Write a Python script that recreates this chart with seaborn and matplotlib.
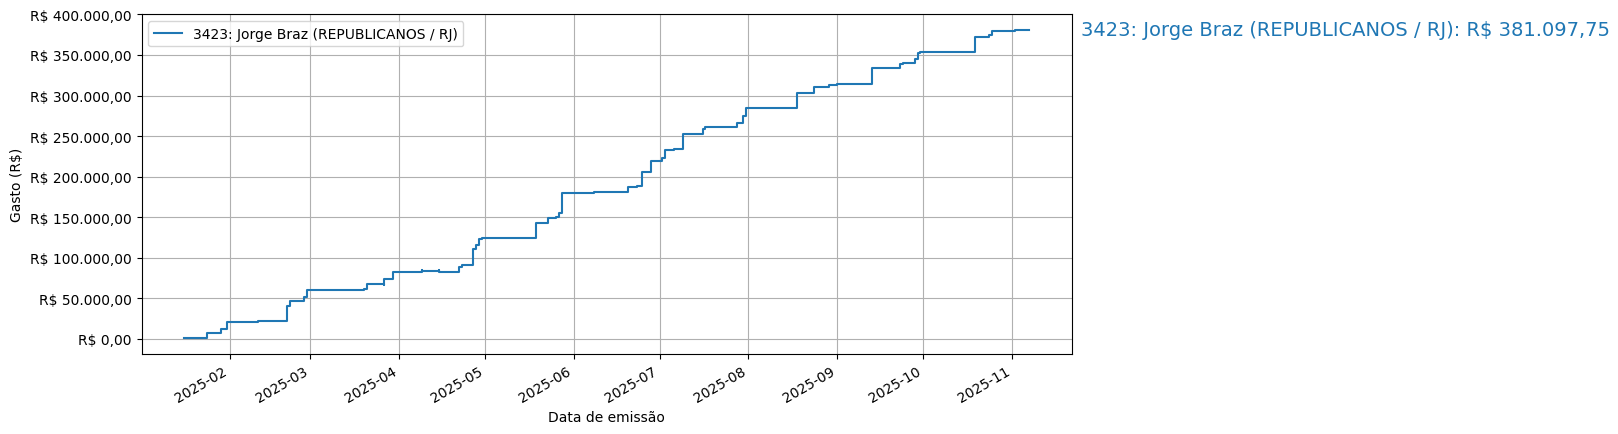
import matplotlib
matplotlib.use("Agg")
import matplotlib.pyplot as plt
import matplotlib.transforms as mtransforms
from matplotlib.ticker import FuncFormatter
import seaborn as sns
import pandas as pd

# ---- data ----
dates = [
    "2025-01-16", "2025-01-24", "2025-01-29", "2025-01-31", "2025-02-11",
    "2025-02-21", "2025-02-22", "2025-02-27", "2025-02-28", "2025-03-20",
    "2025-03-21", "2025-03-24", "2025-03-27", "2025-03-27", "2025-03-30",
    "2025-03-31", "2025-04-09", "2025-04-09", "2025-04-15", "2025-04-15",
    "2025-04-22", "2025-04-23", "2025-04-27", "2025-04-28", "2025-04-29",
    "2025-04-30", "2025-05-19", "2025-05-23", "2025-05-26", "2025-05-27",
    "2025-05-28", "2025-06-08", "2025-06-20", "2025-06-23", "2025-06-25",
    "2025-06-28", "2025-07-02", "2025-07-03", "2025-07-06", "2025-07-09",
    "2025-07-16", "2025-07-17", "2025-07-28", "2025-07-30", "2025-07-31",
    "2025-08-18", "2025-08-24", "2025-08-29", "2025-09-01", "2025-09-13",
    "2025-09-23", "2025-09-24", "2025-09-28", "2025-09-29", "2025-09-30",
    "2025-10-19", "2025-10-24", "2025-10-25", "2025-11-02", "2025-11-07",
]
cumulative_spend = [
    800, 6900, 11900, 20600, 21800,
    40300, 46500, 51400, 60000, 61700,
    67400, 68300, 67000, 73600, 81900,
    82400, 84500, 83300, 84600, 82300,
    89200, 91700, 111100, 115200, 122900,
    124300, 142800, 149000, 150200, 155000,
    179800, 181000, 187100, 188400, 205700,
    219200, 222600, 233300, 234100, 252600,
    258800, 261700, 266200, 274900, 284700,
    302900, 310700, 313100, 314400, 333400,
    338700, 340300, 345300, 351800, 353400,
    372400, 374500, 379800, 381000, 381097.75,
]
series_label = "3423: Jorge Braz (REPUBLICANOS / RJ)"
total_label = "3423: Jorge Braz (REPUBLICANOS / RJ): R$ 381.097,75"
x_label = "Data de emissão"
y_label = "Gasto (R$)"

df = pd.DataFrame({"data": pd.to_datetime(dates), "gasto": cumulative_spend})

W, H = 1618, 435
fig = plt.figure(figsize=(W / 100, H / 100), dpi=100)
ax = fig.add_axes([141.5 / W, (H - 354.7) / H, (1071.7 - 141.5) / W, (354.7 - 15.3) / H])

sns.lineplot(data=df, x="data", y="gasto", ax=ax, estimator=None, sort=False,
             drawstyle="steps-post", color="C0", linewidth=1.5, label=series_label)

def brl(v, pos=None):
    s = f"{v:,.2f}"
    s = s.replace(",", "X").replace(".", ",").replace("X", ".")
    return f"R$ {s}"

ax.yaxis.set_major_formatter(FuncFormatter(brl))
ax.grid(True)
ax.set_xlabel(x_label)
ax.set_ylabel(y_label)
ax.legend(loc="upper left")
plt.setp(ax.get_xticklabels(), rotation=30, ha="right")

trans = mtransforms.blended_transform_factory(ax.transAxes, ax.transData)
ax.text(1.01, cumulative_spend[-1], total_label, transform=trans,
        va="center", ha="left", fontsize=14, color="C0")

fig.savefig("out.png", dpi=100)
